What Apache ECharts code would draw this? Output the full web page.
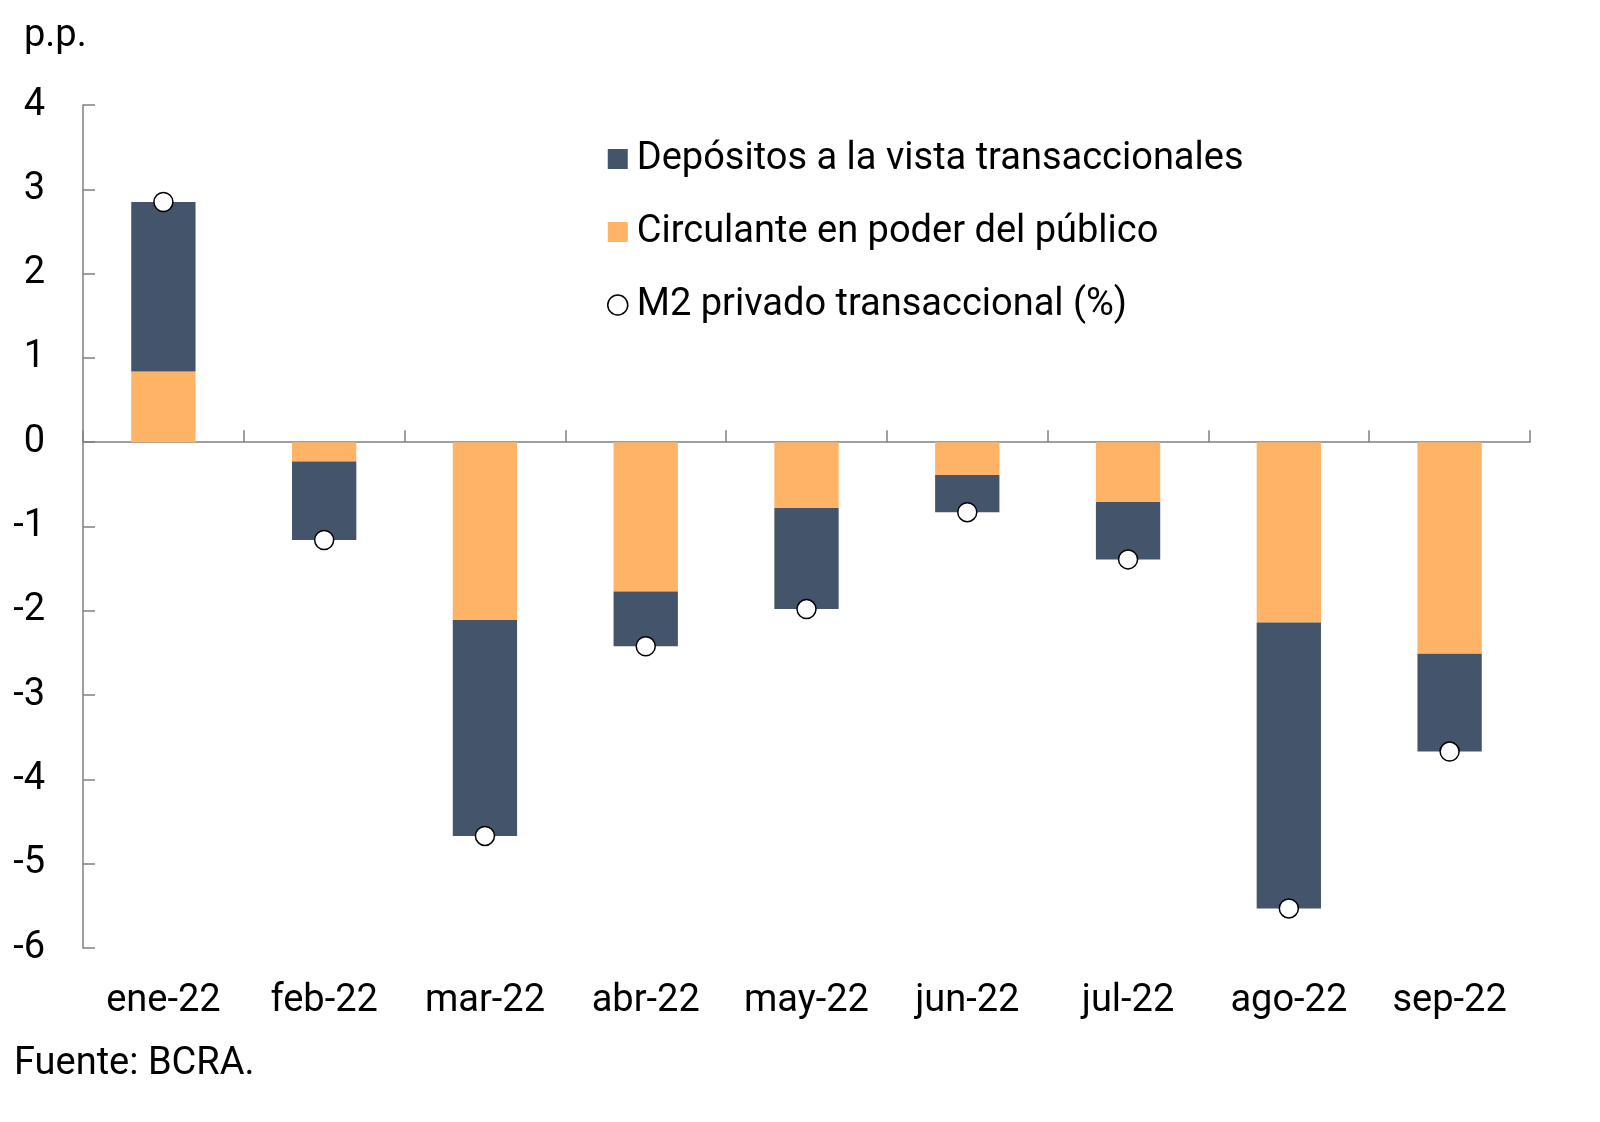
<!DOCTYPE html>
<html><head><meta charset="utf-8">
<script src="https://cdn.jsdelivr.net/npm/echarts@6/dist/echarts.min.js"></script>
<style>html,body{margin:0;padding:0;background:#fff}#c{width:1600px;height:1122px}</style>
</head><body><div id="c"></div>
<script>
const categories = ['ene-22','feb-22','mar-22','abr-22','may-22','jun-22','jul-22','ago-22','sep-22'];
const circulante = [0.84,-0.23,-2.11,-1.77,-0.78,-0.39,-0.71,-2.14,-2.51];
const depositos = [2.01,-0.93,-2.56,-0.65,-1.20,-0.44,-0.68,-3.39,-1.16];
const m2 = [2.85,-1.16,-4.67,-2.42,-1.98,-0.83,-1.39,-5.53,-3.67];
const yTicks = [-6,-5,-4,-3,-2,-1,0,1,2,3,4];

const chart = echarts.init(document.getElementById('c'));
const font = 'Roboto';
chart.setOption({
  animation:false,
  textStyle:{fontFamily:font},
  grid:{left:83,right:70,top:105,bottom:174},
  title:[
    {text:'p.p.',left:19,top:12,textStyle:{fontFamily:font,fontSize:38,fontWeight:'normal',color:'#000'}},
    {text:'Fuente: BCRA.',left:9,top:1040,textStyle:{fontFamily:font,fontSize:38,fontWeight:'normal',color:'#000'}}
  ],
  legend:{
    orient:'vertical',left:602,top:135,itemGap:35,itemWidth:20,itemHeight:20,
    textStyle:{fontFamily:font,fontSize:38,color:'#000',padding:[0,0,0,4]},
    data:[
      {name:'Depósitos a la vista transaccionales',icon:'rect'},
      {name:'Circulante en poder del público',icon:'rect'},
      {name:'M2 privado transaccional (%)',icon:'circle',itemStyle:{color:'#fff',borderColor:'#000',borderWidth:1.5,opacity:1}}
    ]
  },
  xAxis:[
    {type:'category',data:categories,axisLine:{onZero:true,lineStyle:{color:'#808080',width:1.5}},
     axisTick:{show:true,inside:true,length:12,lineStyle:{color:'#808080',width:1.5}},axisLabel:{show:false}},
    {type:'category',data:categories,position:'bottom',axisLine:{show:false,onZero:false},axisTick:{show:false},
     axisLabel:{fontFamily:font,fontSize:38,color:'#000',margin:34,interval:0}}
  ],
  yAxis:{type:'value',min:-6,max:4,interval:1,splitLine:{show:false},
    axisLine:{show:true,lineStyle:{color:'#808080',width:1.5}},
    axisTick:{show:true,inside:true,length:12,lineStyle:{color:'#808080',width:1.5}},
    axisLabel:{fontFamily:font,fontSize:38,color:'#000',margin:38,formatter:v=>yTicks.includes(v)?String(v):''}},
  series:[
    {name:'Circulante en poder del público',type:'bar',stack:'s',data:circulante,barWidth:'40%',itemStyle:{color:'#FFB366'}},
    {name:'Depósitos a la vista transaccionales',type:'bar',stack:'s',data:depositos,barWidth:'40%',itemStyle:{color:'#44546A'}},
    {name:'M2 privado transaccional (%)',type:'scatter',data:m2,symbol:'circle',symbolSize:19,z:5,
     itemStyle:{color:'#fff',borderColor:'#000',borderWidth:1.5,opacity:1}}
  ]
});
</script></body></html>
